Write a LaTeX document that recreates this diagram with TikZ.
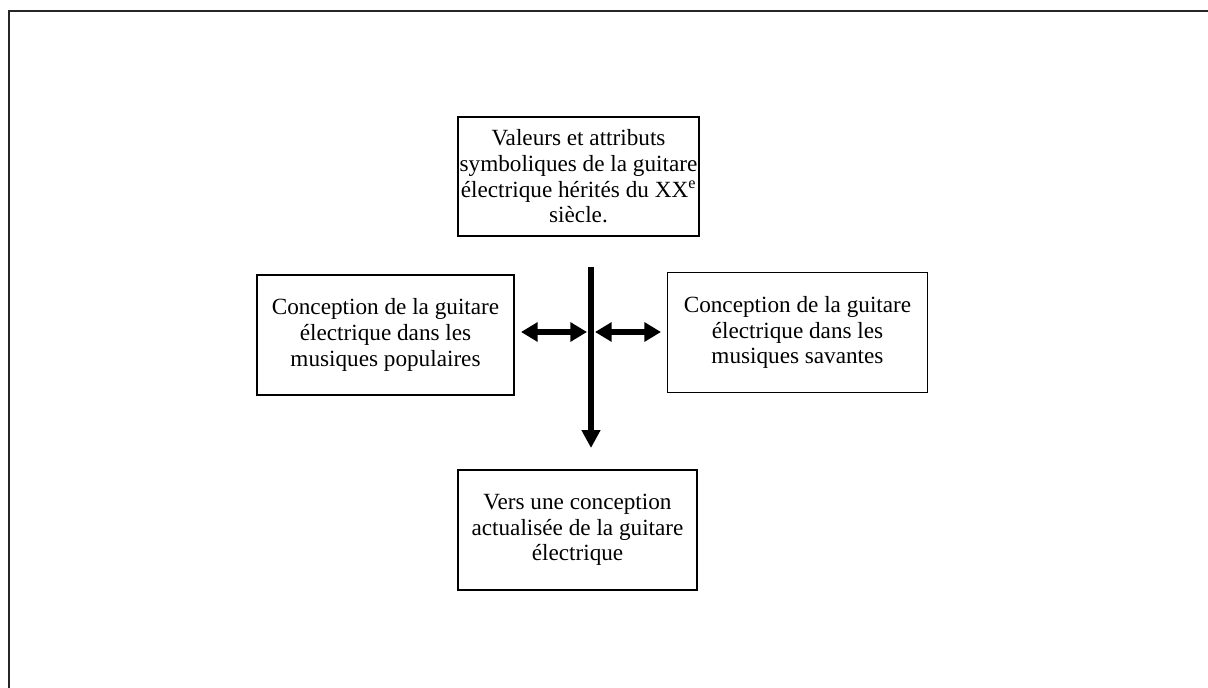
\documentclass[tikz,border=0pt]{standalone}
\usepackage{fontspec}
\setmainfont{Liberation Serif}
\usetikzlibrary{arrows.meta}
\begin{document}
\begin{tikzpicture}[x=0.75pt,y=-0.75pt,
  boxnode/.style={draw=black,line width=0.9pt,align=center,inner sep=0pt,
    font=\fontsize{17.4}{19.3}\selectfont},
  thickarrow/.style={line width=4pt,-{Triangle[length=13.5pt,width=13.5pt]}},
  dblarrow/.style={line width=3.8pt,{Triangle[length=12.5pt,width=14pt]}-{Triangle[length=12.5pt,width=14pt]}}]
\useasboundingbox (0,0) rectangle (1208,688);
\fill[white] (0,0) rectangle (1208,688);
\coordinate (fr1) at (9,688);
\coordinate (fr2) at (9,11);
\coordinate (fr3) at (1208,11);
\draw[line width=1.5pt,black!85] (fr1) -- (fr2) -- (fr3);
\node[boxnode,minimum width=241*0.75pt,minimum height=119*0.75pt] (top) at (578.5,176.5)
  {Valeurs et attributs\\symboliques de la guitare\\électrique hérités du XX\textsuperscript{e}\\siècle.};
\node[boxnode,minimum width=257*0.75pt,minimum height=120*0.75pt] (left) at (385.5,335)
  {Conception de la guitare\\électrique dans les\\musiques populaires};
\node[boxnode,minimum width=260*0.75pt,minimum height=120*0.75pt] (right) at (797.5,332.5)
  {Conception de la guitare\\électrique dans les\\musiques savantes};
\node[boxnode,minimum width=239*0.75pt,minimum height=120*0.75pt] (bottom) at (577.5,530)
  {Vers une conception\\actualisée de la guitare\\électrique};
\coordinate (vtop) at (591,267);
\coordinate (vend) at (591,448);
\coordinate (la) at (521,332);
\coordinate (lb) at (587,332);
\coordinate (ra) at (595,332);
\coordinate (rb) at (661,332);
\draw[thickarrow] (vtop) -- (vend);
\draw[dblarrow] (la) -- (lb);
\draw[dblarrow] (ra) -- (rb);
\end{tikzpicture}
\end{document}
